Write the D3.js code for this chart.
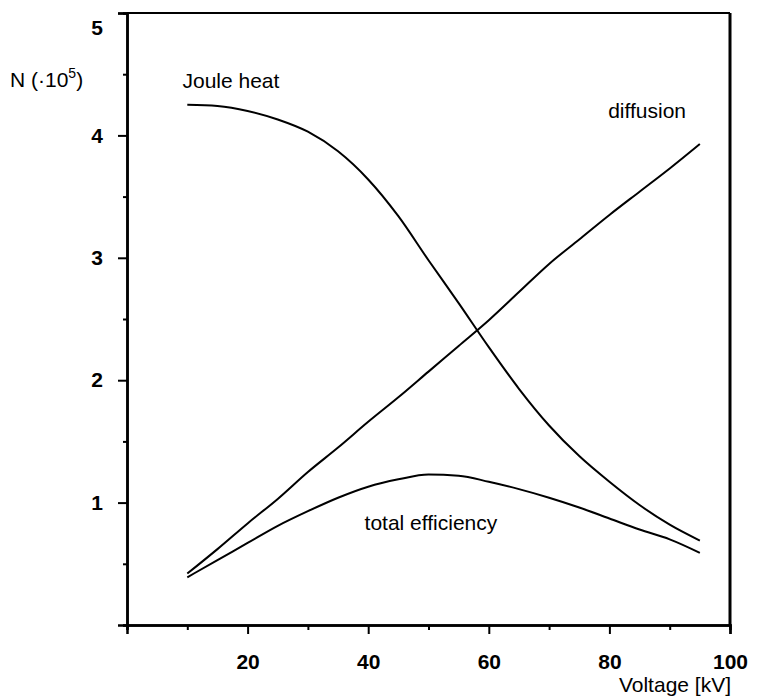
<!DOCTYPE html>
<html>
<head>
<meta charset="utf-8">
<script src="https://cdn.jsdelivr.net/npm/d3@7"></script>
<style>
  html, body { margin: 0; padding: 0; background: #fff; }
  svg { display: block; }
  text { font-family: "Liberation Sans", Arial, Helvetica, sans-serif; fill: #000; }
</style>
</head>
<body>
<svg id="chart" width="758" height="696"></svg>
<script>
// ---- data ----
const voltage = [10, 15, 20, 25, 30, 35, 40, 45, 50, 55, 60, 65, 70, 75, 80, 85, 90, 95];
const jouleHeat = [4.25, 4.24, 4.20, 4.13, 4.03, 3.87, 3.64, 3.34, 2.98, 2.63, 2.27, 1.93, 1.63, 1.38, 1.17, 0.98, 0.82, 0.69];
const diffusion = [0.42, 0.62, 0.83, 1.03, 1.25, 1.45, 1.66, 1.86, 2.07, 2.28, 2.49, 2.72, 2.95, 3.15, 3.35, 3.54, 3.73, 3.93];
const totalEfficiency = [0.39, 0.53, 0.67, 0.81, 0.93, 1.04, 1.13, 1.19, 1.23, 1.22, 1.17, 1.11, 1.04, 0.96, 0.87, 0.78, 0.70, 0.59];
const xMajorTicks = [20, 40, 60, 80, 100];
const xMinorTicks = [0, 10, 30, 50, 70, 90];
const yMajorTicks = [0, 1, 2, 3, 4, 5];
const yMinorTicks = [0.5, 1.5, 2.5, 3.5, 4.5];
const seriesLabels = [
  { name: "Joule heat", v: 9.2, n: 4.39 },
  { name: "diffusion", v: 79.8, n: 4.14 },
  { name: "total efficiency", v: 39.4, n: 0.78 }
];

const svg = d3.select("#chart");
const x = d3.scaleLinear().domain([0, 100]).range([127, 730]);
const y = d3.scaleLinear().domain([0, 5]).range([625, 13]);

// frame (top and right)
svg.append("line").attr("x1", x(0)).attr("x2", x(100)).attr("y1", y(5)).attr("y2", y(5))
  .attr("stroke", "#000").attr("stroke-width", 2);
svg.append("line").attr("x1", x(100)).attr("x2", x(100)).attr("y1", y(5)).attr("y2", y(0))
  .attr("stroke", "#000").attr("stroke-width", 3);

// x axis
const gx = svg.append("g").attr("transform", `translate(0,${y(0)})`);
gx.call(d3.axisBottom(x).tickValues(xMajorTicks).tickSize(9).tickPadding(20).tickFormat(d3.format("d")));
const gxm = svg.append("g").attr("transform", `translate(0,${y(0)})`);
gxm.call(d3.axisBottom(x).tickValues(xMinorTicks).tickSize(5).tickFormat(""));

// y axis
const gy = svg.append("g").attr("transform", `translate(${x(0)},0)`);
gy.call(d3.axisLeft(y).tickValues(yMajorTicks.filter(d => d > 0)).tickSize(9).tickPadding(15).tickFormat(d3.format("d")));
const gym = svg.append("g").attr("transform", `translate(${x(0)},0)`);
gym.call(d3.axisLeft(y).tickValues(yMinorTicks.concat([0])).tickSize(4).tickFormat(""));

[gx, gxm, gy, gym].forEach(g => {
  g.attr("font-size", 21).attr("font-family", "'Liberation Sans', Arial, sans-serif");
  g.select(".domain").attr("stroke", "#000").attr("stroke-width", 2.5);
  g.selectAll(".tick line").attr("stroke", "#000").attr("stroke-width", 2);
  g.selectAll(".tick text").style("font-size", "21px").style("font-weight", "bold");
});
gy.selectAll(".tick text").filter(d => d === 5).attr("dy", "1.0em");

// lines
const line = d3.line().x(d => x(d[0])).y(d => y(d[1])).curve(d3.curveMonotoneX);
[jouleHeat, diffusion, totalEfficiency].forEach(vals => {
  svg.append("path")
    .datum(voltage.map((v, i) => [v, vals[i]]))
    .attr("d", line)
    .attr("fill", "none")
    .attr("stroke", "#000")
    .attr("stroke-width", 2);
});

// series labels
svg.selectAll(".slabel").data(seriesLabels).join("text")
  .attr("class", "slabel")
  .attr("x", d => x(d.v)).attr("y", d => y(d.n))
  .attr("font-size", 21)
  .text(d => d.name);

// y axis title
const yt = svg.append("text").attr("x", 10).attr("y", 87).attr("font-size", 21);
yt.append("tspan").text("N (\u00B710");
yt.append("tspan").attr("font-size", 14).attr("dy", -9).text("5");
yt.append("tspan").attr("dy", 9).text(")");

// x axis title
svg.append("text").attr("x", 731).attr("y", 692).attr("text-anchor", "end")
  .attr("font-size", 21).text("Voltage [kV]");
</script>
</body>
</html>
